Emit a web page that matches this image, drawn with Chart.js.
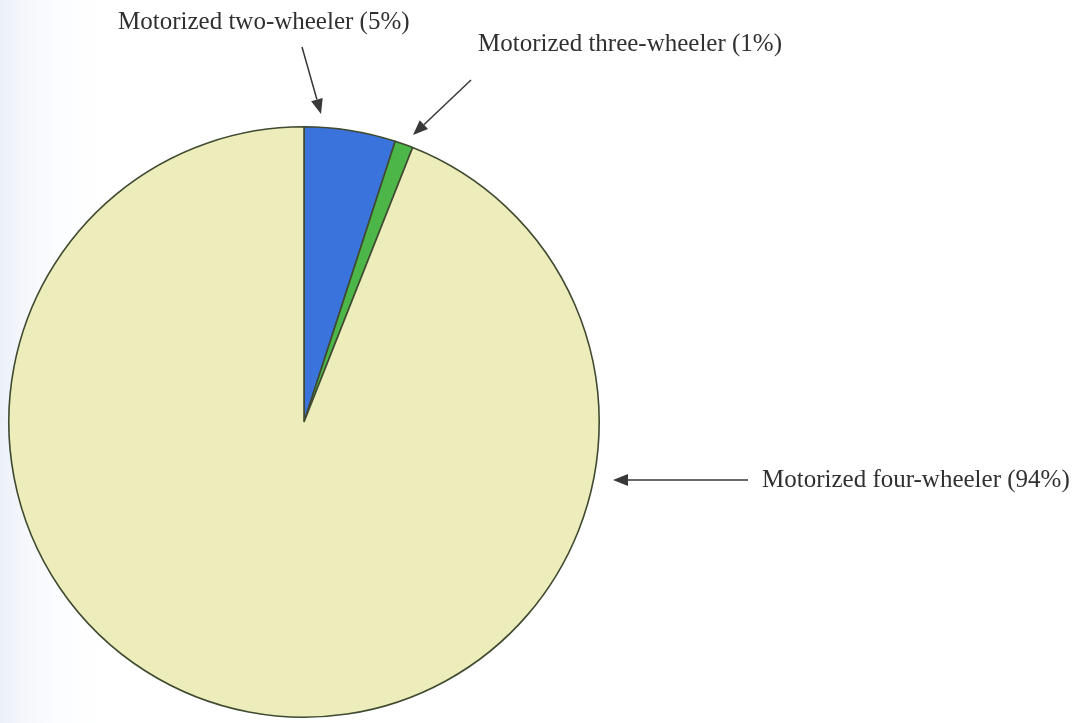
<!DOCTYPE html>
<html>
<head>
<meta charset="utf-8">
<title>Motorized vehicle share</title>
<script src="https://cdn.jsdelivr.net/npm/chart.js@4.4.1/dist/chart.umd.min.js"></script>
<style>
  html, body { margin: 0; padding: 0; }
  body {
    width: 1076px; height: 723px; overflow: hidden;
    background: linear-gradient(to right, #ebf0f8 0px, #f5f7fc 25px, #fcfdff 60px, #ffffff 110px);
  }
  #wrap { position: relative; width: 1076px; height: 723px; }
</style>
</head>
<body>
<div id="wrap"><canvas id="pie" width="1076" height="723"></canvas></div>
<script>
// Share of motorized vehicles by type
const categories = ['Motorized two-wheeler', 'Motorized three-wheeler', 'Motorized four-wheeler'];
const shares = [5, 1, 94];
const sliceColors = ['#3b73dc', '#4cb648', '#ecedbb'];

// Callout text, anchor and arrow for each slice
const callouts = [
  { text: categories[0] + ' (' + shares[0] + '%)', tx: 118, ty: 22, from: [302, 47], to: [321, 114] },
  { text: categories[1] + ' (' + shares[1] + '%)', tx: 478, ty: 44, from: [471, 80], to: [413, 135] },
  { text: categories[2] + ' (' + shares[2] + '%)', tx: 762, ty: 480, from: [748, 480], to: [613, 480] }
];

function drawArrow(ctx, from, to) {
  const ang = Math.atan2(to[1] - from[1], to[0] - from[0]);
  const head = 15, half = 6;
  const bx = to[0] - head * Math.cos(ang), by = to[1] - head * Math.sin(ang);
  ctx.beginPath();
  ctx.moveTo(from[0], from[1]);
  ctx.lineTo(bx, by);
  ctx.stroke();
  ctx.beginPath();
  ctx.moveTo(to[0], to[1]);
  ctx.lineTo(bx + half * Math.sin(ang), by - half * Math.cos(ang));
  ctx.lineTo(bx - half * Math.sin(ang), by + half * Math.cos(ang));
  ctx.closePath();
  ctx.fill();
}

const calloutPlugin = {
  id: 'callouts',
  afterDraw(chart) {
    const ctx = chart.ctx;
    ctx.save();
    ctx.strokeStyle = '#383838';
    ctx.fillStyle = '#383838';
    ctx.lineWidth = 1.5;
    callouts.forEach(c => drawArrow(ctx, c.from, c.to));
    ctx.fillStyle = '#303030';
    ctx.font = '25px "Liberation Serif", "Times New Roman", serif';
    ctx.textBaseline = 'middle';
    ctx.textAlign = 'left';
    callouts.forEach(c => ctx.fillText(c.text, c.tx, c.ty));
    ctx.restore();
  }
};

new Chart(document.getElementById('pie'), {
  type: 'pie',
  data: {
    labels: categories,
    datasets: [{
      data: shares,
      backgroundColor: sliceColors,
      borderColor: '#3f4a30',
      borderWidth: 1.6
    }]
  },
  options: {
    responsive: false,
    animation: false,
    rotation: 0,
    layout: { padding: { left: 8, right: 476, top: 126, bottom: 5 } },
    plugins: {
      legend: { display: false },
      tooltip: { enabled: false },
      title: { display: false }
    }
  },
  plugins: [calloutPlugin]
});
</script>
</body>
</html>
